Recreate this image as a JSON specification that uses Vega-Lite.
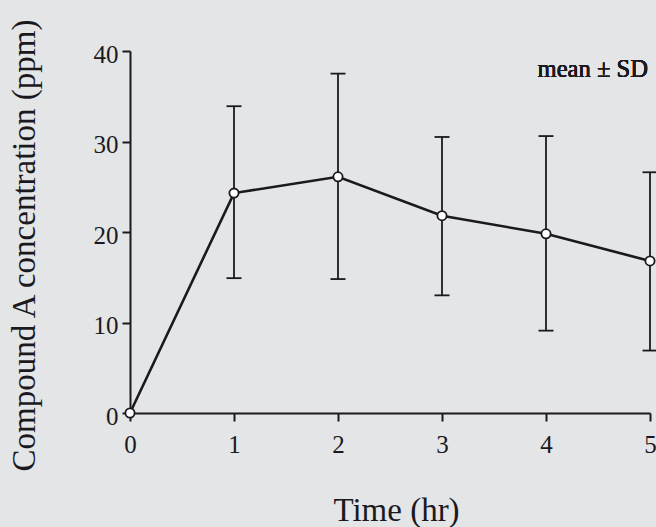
{
  "$schema": "https://vega.github.io/schema/vega-lite/v6.json",
  "width": 520,
  "height": 362,
  "autosize": {"type": "none"},
  "padding": {"left": 130, "top": 51, "right": 6, "bottom": 114},
  "background": "#e4e5e7",
  "config": {
    "view": {"stroke": null},
    "font": "Liberation Serif",
    "axis": {
      "grid": false,
      "domainColor": "#1a1a1e",
      "domainWidth": 2,
      "tickColor": "#1a1a1e",
      "tickWidth": 2,
      "tickSize": 8,
      "labelFont": "Liberation Serif",
      "labelFontSize": 25,
      "labelColor": "#1a1a1e",
      "labelFlush": false,
      "labelOverlap": false,
      "titleFont": "Liberation Serif",
      "titleFontWeight": "normal",
      "titleColor": "#1a1a1e",
      "titleFontSize": 33
    },
    "axisX": {
      "labelPadding": 11,
      "titleBaseline": "alphabetic",
      "titleY": 107,
      "titleX": 266
    },
    "axisY": {
      "labelPadding": 4,
      "labelOffset": 3,
      "titleAngle": 270,
      "titleBaseline": "alphabetic",
      "titleX": -96,
      "titleY": 194
    }
  },
  "data": {
    "values": [
      {"time": 0, "mean": 0, "lo": null, "hi": null},
      {"time": 1, "mean": 24.3, "lo": 14.9, "hi": 33.9},
      {"time": 2, "mean": 26.1, "lo": 14.8, "hi": 37.5},
      {"time": 3, "mean": 21.8, "lo": 13.0, "hi": 30.5},
      {"time": 4, "mean": 19.8, "lo": 9.1, "hi": 30.6},
      {"time": 5, "mean": 16.8, "lo": 6.9, "hi": 26.6}
    ]
  },
  "encoding": {
    "x": {
      "field": "time",
      "type": "quantitative",
      "title": "Time (hr)",
      "scale": {"domain": [0, 5], "nice": false, "zero": false},
      "axis": {"values": [0, 1, 2, 3, 4, 5], "format": "d"}
    }
  },
  "layer": [
    {
      "mark": {"type": "rule", "strokeWidth": 1.8, "color": "#1a1a1e"},
      "encoding": {
        "y": {
          "field": "lo",
          "type": "quantitative",
          "title": "Compound A concentration (ppm)",
          "scale": {"domain": [0, 40], "nice": false},
          "axis": {"values": [0, 10, 20, 30, 40]}
        },
        "y2": {"field": "hi"}
      }
    },
    {
      "mark": {"type": "tick", "orient": "horizontal", "size": 15, "thickness": 1.8, "color": "#1a1a1e", "opacity": 1},
      "encoding": {
        "y": {"field": "hi", "type": "quantitative", "title": "Compound A concentration (ppm)"}
      }
    },
    {
      "mark": {"type": "tick", "orient": "horizontal", "size": 15, "thickness": 1.8, "color": "#1a1a1e", "opacity": 1},
      "encoding": {
        "y": {"field": "lo", "type": "quantitative", "title": "Compound A concentration (ppm)"}
      }
    },
    {
      "mark": {"type": "line", "strokeWidth": 2.6, "color": "#1a1a1e"},
      "encoding": {
        "y": {"field": "mean", "type": "quantitative", "title": "Compound A concentration (ppm)"}
      }
    },
    {
      "mark": {"type": "point", "shape": "circle", "filled": false, "fill": "#ffffff", "fillOpacity": 1, "stroke": "#1a1a1e", "strokeWidth": 1.8, "size": 85, "opacity": 1},
      "encoding": {
        "y": {"field": "mean", "type": "quantitative", "title": "Compound A concentration (ppm)"}
      }
    },
    {
      "mark": {"type": "text", "text": "mean ± SD", "align": "right", "baseline": "alphabetic", "fontSize": 24.6, "font": "Liberation Serif", "color": "#1a1a1e", "dx": -2},
      "encoding": {
        "x": {"datum": 5, "type": "quantitative"},
        "y": {"datum": 37.1, "type": "quantitative"}
      }
    }
  ]
}
